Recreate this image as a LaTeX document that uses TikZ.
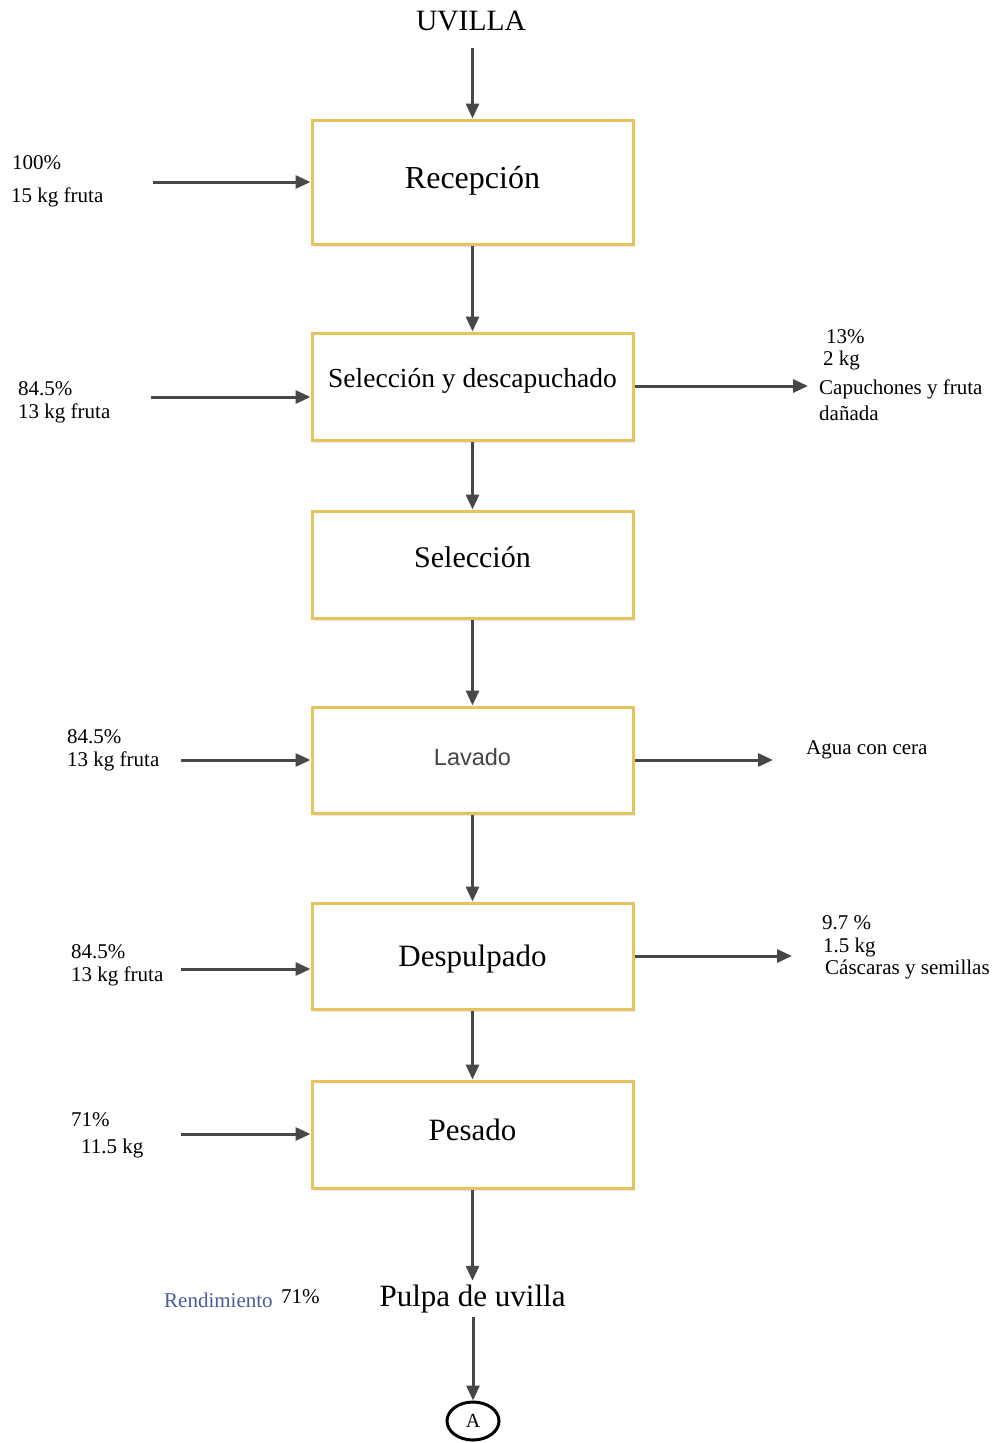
\documentclass[tikz,border=0pt]{standalone}
\usepackage{fontspec}
\setmainfont{Liberation Serif}
\setsansfont{Liberation Sans}
\usetikzlibrary{arrows.meta, shadows, shapes.geometric}

\newcommand{\fsz}[1]{\fontsize{#1}{#1}\selectfont}

\begin{document}
\begin{tikzpicture}[x=1pt, y=-1pt,
    proc/.style={draw=boxColour, line width=3pt, fill=white,
      minimum width=321pt, minimum height=107pt, inner sep=0pt,
      drop shadow={opacity=0.18, shadow xshift=2pt, shadow yshift=-3pt}},
    flow/.style={draw=arrowColour, line width=3pt,
      -{Triangle[length=15pt, width=13pt]}},
    small/.style={font=\fsz{21}, inner sep=0pt, anchor=west}]
    % Define colours
    \definecolor{boxColour}{HTML}{E6C35E}
    \definecolor{arrowColour}{HTML}{474747}
    \definecolor{labelGrey}{HTML}{444444}
    \definecolor{yieldBlue}{HTML}{4B5A9C}

  \useasboundingbox[fill=white] (0,0) rectangle (993,1443);

  % Process boxes
  \node[font=\fsz{29.5}] (uvilla) at (471,21) {UVILLA};
  \node[proc, minimum height=124pt, font=\fsz{32}] (b1) at (472.5,182) {\raisebox{10pt}{Recepción}};
  \node[proc, font=\fsz{27.5}] (b2) at (472.5,386.5) {\raisebox{18pt}{Selección y descapuchado}};
  \node[proc, font=\fsz{30}] (b3) at (472.5,564.5) {\raisebox{15pt}{Selección}};
  \node[proc, minimum height=106pt, font=\sffamily\fsz{23.5}, text=labelGrey] (b4) at (472.5,760) {\raisebox{7pt}{Lavado}};
  \node[proc, minimum height=106pt, font=\fsz{31}] (b5) at (472.5,956) {\raisebox{-3pt}[\height][\depth]{Despulpado}};
  \node[proc, font=\fsz{31}] (b6) at (472.5,1134.5) {\raisebox{10pt}{Pesado}};
  \node[font=\fsz{31}, inner sep=4pt] (pulpa) at (472.5,1299) {Pulpa de uvilla};
  \node[draw, ellipse, line width=3pt, minimum width=52pt, minimum height=38pt,
        inner sep=0pt, font=\fsz{20}] (endA) at (473,1421) {A};

  % Main line
  \draw[flow] (b1.north |- uvilla.south) ++(0,14) -- (b1.north);
  \draw[flow] (b1) -- (b2);
  \draw[flow] (b2) -- (b3);
  \draw[flow] (b3) -- (b4);
  \draw[flow] (b4) -- (b5);
  \draw[flow] (b5) -- (b6);
  \draw[flow] (b6.south) -- (b6.south |- pulpa.north);
  \draw[flow] (pulpa.south -| endA.north) -- (endA.north);

  % Inputs on the left
  \coordinate (in1) at (153,182);
  \coordinate (in2) at (151,397);
  \coordinate (in4) at (181,760);
  \coordinate (in5) at (181,969);
  \coordinate (in6) at (181,1134);
  \foreach \i in {1,2,4,5,6}
    \draw[flow] (in\i) -- (in\i -| b\i.west);

  \node[small] (t1a) at (12,163) {100\%};
  \node[small] (t1b) at (11,197) {15 kg fruta};
  \node[small] (t2a) at (18,389) {84.5\%};
  \node[small] (t2b) at (18,413) {13 kg fruta};
  \node[small] (t4a) at (67,737) {84.5\%};
  \node[small] (t4b) at (67,761) {13 kg fruta};
  \node[small] (t5a) at (71,952) {84.5\%};
  \node[small] (t5b) at (71,976) {13 kg fruta};
  \node[small] (t6a) at (71,1120) {71\%};
  \node[small] (t6b) at (81,1148) {11.5 kg};

  % Outputs on the right
  \coordinate (out2) at (808,386);
  \coordinate (out4) at (773,760);
  \coordinate (out5) at (792,956);
  \foreach \i in {2,4,5}
    \draw[flow] (b\i.east |- out\i) -- (out\i);

  \node[small] (r2a) at (826,337) {13\%};
  \node[small] (r2b) at (823,360) {2 kg};
  \node[small] (r2c) at (819,389) {Capuchones y fruta};
  \node[small] (r2d) at (819,413) {dañada};
  \node[small] (r4a) at (806,750) {Agua con cera};
  \node[small] (r5a) at (822,923) {9.7 \%};
  \node[small] (r5b) at (823,947) {1.5 kg};
  \node[small] (r5c) at (825,969) {Cáscaras y semillas};

  % Yield
  \node[small, text=yieldBlue] (yield) at (164,1300) {Rendimiento};
  \node[small] (yieldVal) at (281,1297) {71\%};

\end{tikzpicture}
\end{document}
